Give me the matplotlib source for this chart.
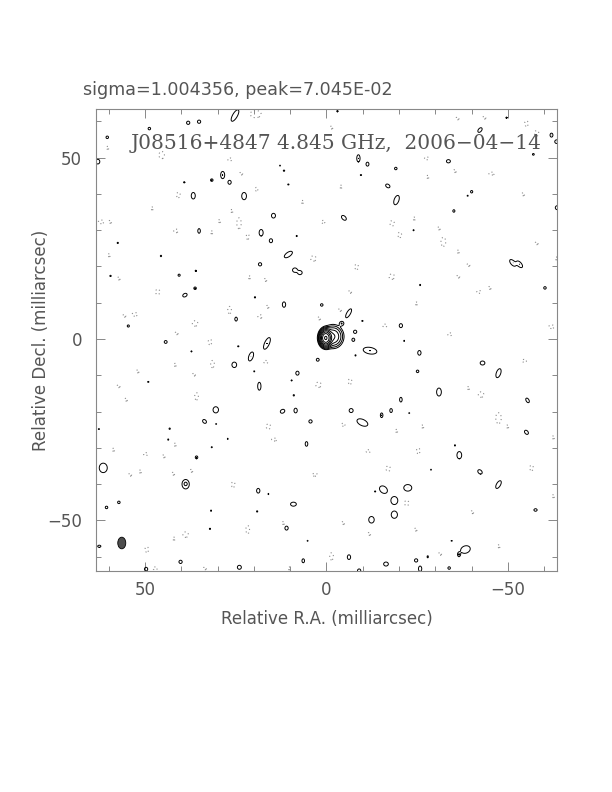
import numpy as np
import matplotlib
matplotlib.use("Agg")
import matplotlib.pyplot as plt
from matplotlib.patches import Ellipse
from matplotlib.ticker import MultipleLocator

# ---------------- text ----------------
top_text = "sigma=1.004356, peak=7.045E-02"
map_title = "J08516+4847 4.845 GHz,  2006\u221204\u221214"
x_label = "Relative R.A. (milliarcsec)"
y_label = "Relative Decl. (milliarcsec)"

# ---------------- map geometry / levels ----------------
x_limits = (63.5, -63.6)
y_limits = (-64.0, 63.4)
lowest_level = 0.0035            # fraction of peak
level_factors = [1, 2, 4, 8, 16, 32, 64, 128, 256]

# restoring beam: x, y, minor (mas), major (mas), angle
beam = (56.4, -56.2, 2.2, 3.2, 0)

# bright source components: x, y, amplitude (fraction of peak), w, h, angle
source_components = [
    (0.2, 0.3, 1.0, 1.6, 2.2, 0),
    (-1.8, 0.7, 0.06, 3.0, 3.3, 0),
]

# positive noise islands (contour at lowest level): x, y, width, height, angle
positive_islands = [
    (25.2, 61.6, 3.6, 1.3, 60), (38.1, 59.6, 0.9, 0.9, 0), (35.1, 59.9, 0.9, 0.9, 0),
    (48.8, 58.0, 0.7, 0.7, 0), (60.4, 55.6, 0.7, 0.7, 0), (63.0, 48.9, 1.1, 1.3, 0),
    (28.6, 45.2, 1.1, 2.0, 0), (26.7, 43.2, 0.9, 1.1, 0), (31.6, 43.8, 0.7, 0.7, 0),
    (36.7, 39.5, 1.1, 1.8, 0), (22.7, 39.4, 1.3, 2.0, 0), (14.6, 34.0, 1.1, 1.3, 0),
    (39.2, 43.2, 0.4, 0.4, 0), (11.7, 46.4, 0.4, 0.4, 0), (12.8, 47.8, 0.3, 0.3, 0),
    (10.5, 42.6, 0.35, 0.35, 0), (35.1, 29.8, 0.7, 1.3, 0), (18.0, 29.3, 1.1, 1.8, 0),
    (15.3, 27.1, 0.9, 1.1, 0), (8.2, 28.4, 0.35, 0.35, 0), (10.5, 23.3, 2.6, 1.2, 35),
    (18.3, 20.6, 0.9, 0.9, 0), (8.7, 19.0, 1.3, 1.2, 0), (7.3, 18.3, 1.2, 1.1, 0),
    (45.6, 22.9, 0.4, 0.4, 0), (57.5, 26.5, 0.35, 0.35, 0), (59.5, 17.4, 0.4, 0.4, 0),
    (40.6, 17.6, 0.6, 0.6, 0), (36.0, 18.8, 0.4, 0.4, 0), (36.2, 14.0, 0.7, 0.7, 0),
    (39.0, 12.1, 1.3, 0.9, 30), (19.7, 11.5, 0.35, 0.35, 0), (11.7, 9.5, 0.9, 1.5, 0),
    (1.3, 9.4, 0.7, 0.7, 0), (24.9, 5.5, 0.7, 1.1, 0), (54.6, 3.6, 0.6, 0.6, 0),
    (-3.0, 62.8, 0.4, 0.4, 0), (-49.6, 61.0, 0.4, 0.4, 0), (-42.3, 57.6, 1.5, 0.9, 50),
    (-62.0, 56.2, 0.8, 1.1, 0), (-63.4, 54.4, 1.0, 1.0, 0), (-57.0, 50.9, 0.5, 0.5, 0),
    (-8.8, 49.8, 0.9, 2.0, 0), (-11.3, 48.2, 0.8, 1.1, 0), (-33.6, 49.0, 1.1, 0.9, 0),
    (-19.1, 47.0, 0.7, 0.7, 0), (-9.5, 45.2, 0.35, 0.35, 0), (-16.9, 42.2, 1.3, 0.9, -35),
    (-19.3, 38.3, 2.7, 1.3, 70), (-40.0, 40.6, 0.6, 0.7, 0), (-38.9, 39.5, 0.3, 0.3, 0),
    (-35.1, 35.3, 0.6, 0.7, 0), (-4.8, 33.4, 1.6, 1.0, -45), (-24.0, 30.0, 0.35, 0.35, 0),
    (-63.6, 36.2, 1.1, 1.1, 0), (-51.3, 21.0, 2.2, 1.1, -50), (-53.2, 20.6, 2.2, 1.1, -50),
    (-25.8, 14.9, 0.35, 0.35, 0), (-60.2, 14.1, 0.7, 0.7, 0), (-6.1, 7.1, 2.8, 1.0, 60),
    (-4.2, 4.3, 1.1, 1.1, 0), (-9.9, 5.0, 0.35, 0.35, 0), (-20.5, 3.7, 0.9, 1.1, 0),
    (-7.9, 2.0, 0.9, 0.9, 0),
    (44.3, -0.8, 0.8, 0.8, 0), (24.3, -2.0, 0.35, 0.35, 0), (37.2, -3.4, 0.35, 0.35, 0),
    (16.4, -1.2, 3.5, 1.3, 65), (20.8, -4.8, 2.6, 1.2, 70), (25.4, -7.1, 1.3, 1.5, 0),
    (2.4, -5.7, 0.8, 0.8, 0), (8.0, -9.4, 0.9, 1.1, 0), (9.6, -11.4, 0.35, 0.35, 0),
    (19.9, -8.9, 0.3, 0.3, 0), (49.1, -11.8, 0.35, 0.35, 0), (18.5, -13.0, 0.9, 2.2, 0),
    (9.0, -15.5, 0.4, 0.4, 0), (30.5, -19.5, 1.5, 1.7, 0), (12.1, -19.9, 1.3, 1.0, 30),
    (8.5, -19.7, 0.9, 1.3, 0), (33.6, -22.7, 1.2, 0.9, -45), (4.4, -22.7, 0.9, 0.9, 0),
    (30.4, -23.4, 0.3, 0.3, 0), (43.2, -24.7, 0.4, 0.4, 0), (43.6, -27.7, 0.35, 0.35, 0),
    (27.2, -27.5, 0.3, 0.3, 0), (31.6, -29.8, 0.35, 0.35, 0), (5.5, -28.9, 0.7, 1.3, 0),
    (35.8, -32.6, 0.7, 0.8, 0), (61.5, -35.5, 2.2, 2.6, 0), (38.8, -40.0, 2.0, 2.6, 0),
    (38.8, -39.9, 0.5, 0.5, 0),
    (18.8, -41.8, 0.9, 1.3, 0), (16.0, -42.7, 0.3, 0.3, 0), (9.1, -45.5, 1.6, 1.1, 0),
    (57.2, -45.0, 0.7, 0.7, 0), (60.6, -46.4, 0.7, 0.7, 0), (31.8, -47.3, 0.35, 0.35, 0),
    (19.1, -47.5, 0.35, 0.35, 0), (32.1, -52.3, 0.35, 0.35, 0), (11.0, -52.1, 0.9, 1.1, 0),
    (5.2, -55.6, 0.3, 0.3, 0), (62.6, -57.1, 0.9, 0.6, 0), (6.4, -61.1, 0.7, 1.1, 0),
    (40.2, -61.4, 0.9, 0.9, 0), (24.0, -62.9, 1.1, 1.1, 0), (49.7, -63.4, 0.9, 1.0, 0),
    (62.7, -24.8, 0.3, 0.3, 0),
    (-7.4, -0.2, 0.8, 0.9, 0), (-12.0, -3.2, 3.8, 1.8, -10), (-8.0, -4.5, 0.35, 0.35, 0),
    (-21.4, -0.5, 0.3, 0.3, 0), (-25.6, -3.8, 0.9, 1.3, 0), (-25.1, -8.9, 0.7, 0.7, 0),
    (-43.0, -6.6, 1.3, 1.1, 0), (-47.4, -9.4, 2.6, 1.2, 70), (-31.0, -14.6, 1.3, 2.2, 0),
    (-20.5, -16.7, 0.7, 1.3, 0), (-6.8, -19.7, 1.1, 1.1, 0), (-17.8, -19.7, 0.7, 1.1, 0),
    (-15.2, -21.0, 0.7, 1.3, 0), (-9.9, -23.0, 3.2, 1.7, -25), (-55.4, -16.9, 1.4, 0.8, -60),
    (-55.1, -25.7, 1.3, 0.9, -50), (-22.8, -20.4, 0.3, 0.3, 0), (-35.4, -29.3, 0.35, 0.35, 0),
    (-36.6, -32.0, 1.3, 2.0, 0), (-42.3, -36.6, 1.4, 1.0, -45), (-47.4, -40.1, 2.4, 1.1, 60),
    (-57.6, -47.1, 0.9, 0.7, 0), (-15.7, -41.5, 2.4, 1.8, -40), (-22.4, -41.0, 2.2, 1.8, 0),
    (-18.7, -44.5, 1.9, 2.2, 0), (-18.7, -48.4, 1.7, 2.0, 0), (-12.4, -49.8, 1.5, 1.8, 0),
    (-13.4, -42.0, 0.35, 0.35, 0), (-38.3, -58.0, 2.7, 2.0, 20), (-36.5, -59.4, 0.7, 1.1, 0),
    (-27.9, -60.0, 0.3, 0.7, 0), (-6.2, -60.1, 0.9, 1.3, 0), (-16.4, -62.0, 1.3, 1.1, 0),
    (-24.7, -61.0, 0.9, 0.9, 0), (-25.8, -63.3, 0.9, 1.5, 0), (-33.8, -63.1, 0.7, 0.7, 0),
    (-9.0, -63.8, 0.9, 0.9, 0), (-28.8, -36.0, 0.3, 0.3, 0), (-34.5, -55.6, 0.3, 0.3, 0),
]

# negative noise islands (dotted contour at -lowest level): x, y, width, height
negative_islands = [
    (19.5, 62.0, 3.0, 2.0), (45.4, 50.7, 1.5, 2.0), (60.3, 52.7, 0.8, 0.8), (26.6, 49.5, 1.2, 0.8),
    (23.5, 45.6, 0.8, 0.8), (19.3, 41.3, 0.8, 1.0), (40.8, 39.7, 1.0, 1.5), (48.0, 36.0, 0.8, 0.8),
    (26.1, 35.3, 0.8, 0.8), (24.1, 31.9, 1.2, 3.0), (29.5, 32.5, 0.8, 0.8), (62.1, 32.3, 1.5, 1.0),
    (59.6, 32.3, 0.8, 0.8), (41.5, 29.8, 1.2, 1.0), (31.6, 29.4, 0.8, 0.8), (21.7, 28.2, 0.8, 1.5),
    (6.6, 37.8, 0.8, 0.8), (0.9, 32.3, 1.0, 0.8), (59.9, 23.1, 0.8, 0.8), (3.6, 22.2, 1.5, 1.5),
    (57.2, 16.7, 0.8, 0.8), (46.5, 13.0, 1.2, 1.5), (21.2, 17.0, 0.8, 0.8), (16.8, 16.3, 0.8, 0.8),
    (16.2, 8.9, 0.8, 0.8), (26.7, 8.0, 1.0, 2.0), (18.3, 6.2, 1.2, 1.0), (52.8, 6.8, 1.5, 1.0),
    (55.7, 6.4, 0.8, 0.8), (36.2, 4.3, 1.5, 1.5), (41.3, 1.6, 0.8, 0.8), (2.0, 5.7, 0.8, 0.8),
    (-36.1, 60.8, 0.8, 0.8), (-43.5, 61.0, 0.8, 0.8), (-55.1, 59.4, 1.0, 1.5), (-57.9, 56.7, 1.2, 1.5),
    (-1.4, 58.3, 0.8, 0.8), (-27.6, 49.8, 1.2, 0.8), (-45.5, 45.6, 1.5, 0.8), (-35.4, 46.3, 0.8, 0.8),
    (-4.0, 42.0, 0.8, 0.8), (-27.9, 44.7, 0.8, 0.8), (-54.2, 39.9, 0.8, 0.8), (-24.2, 33.2, 0.8, 0.8),
    (-18.1, 31.9, 1.2, 1.5), (-20.2, 28.7, 1.0, 1.5), (-32.2, 26.8, 1.3, 2.5), (-36.3, 24.1, 0.8, 0.8),
    (-31.0, 30.5, 0.8, 0.8), (-57.9, 26.4, 0.8, 0.8), (-8.3, 19.9, 1.0, 1.5), (-18.0, 17.2, 1.5, 1.5),
    (-36.3, 17.2, 0.8, 0.8), (-39.1, 20.4, 0.8, 0.8), (-42.0, 13.0, 1.2, 0.8), (-45.0, 14.1, 0.8, 0.8),
    (-24.8, 9.8, 0.8, 0.8), (-16.1, 3.7, 1.2, 0.8), (-34.0, 1.3, 1.2, 0.8), (-62.0, 3.4, 1.5, 1.0),
    (-3.7, 8.0, 0.8, 0.8), (-63.4, 22.2, 0.8, 0.8), (-6.5, 13.0, 0.8, 0.8),
    (32.1, -0.8, 1.0, 1.5), (41.7, -7.1, 0.8, 0.8), (31.4, -6.9, 1.0, 2.0), (52.0, -8.9, 0.8, 0.8),
    (36.5, -9.8, 0.8, 0.8), (16.7, -6.3, 1.2, 0.8), (57.3, -13.0, 0.8, 0.8), (35.8, -15.8, 1.0, 2.0),
    (55.2, -16.7, 0.8, 0.8), (2.2, -12.6, 1.5, 1.5), (16.0, -24.1, 1.2, 1.5), (41.7, -29.1, 0.8, 0.8),
    (49.8, -31.7, 1.2, 0.8), (14.4, -27.7, 1.5, 0.8), (58.7, -30.5, 0.8, 0.8), (42.2, -37.1, 0.8, 0.8),
    (37.2, -36.3, 0.8, 0.8), (54.1, -37.4, 0.8, 0.8), (51.3, -36.5, 0.8, 0.8), (25.7, -40.1, 1.0, 1.5),
    (3.2, -37.4, 1.5, 0.8), (21.7, -52.5, 1.0, 2.2), (38.8, -53.9, 1.5, 1.5), (49.5, -58.0, 1.0, 1.5),
    (47.2, -63.2, 1.2, 0.8), (33.5, -63.2, 0.8, 0.8), (10.2, -63.2, 0.8, 0.8), (42.0, -55.0, 0.8, 0.8),
    (44.8, -32.3, 0.8, 0.8), (11.9, -50.7, 0.8, 0.8),
    (-54.5, -6.0, 1.2, 0.8), (-6.5, -11.7, 1.0, 1.5), (-39.1, -13.5, 0.8, 0.8), (-42.6, -15.3, 1.5, 1.5),
    (-47.4, -21.8, 1.5, 3.0), (-49.9, -24.1, 0.8, 0.8), (-4.6, -23.6, 1.0, 0.8), (-19.3, -25.3, 0.8, 0.8),
    (-26.5, -24.1, 0.8, 0.8), (-11.5, -30.9, 1.2, 0.8), (-25.3, -30.8, 1.0, 1.5), (-17.0, -35.7, 1.2, 1.5),
    (-56.5, -35.5, 1.0, 1.5), (-62.5, -27.1, 0.8, 0.8), (-22.1, -45.2, 1.2, 1.5), (-40.2, -47.7, 0.8, 0.8),
    (-24.6, -52.5, 0.8, 0.8), (-11.8, -53.7, 0.8, 0.8), (-47.5, -57.1, 0.8, 0.8), (-1.4, -59.9, 1.0, 2.0),
    (-31.3, -59.2, 0.8, 0.8), (-62.5, -43.3, 0.8, 0.8), (-4.6, -50.7, 0.8, 0.8),
]

# ---------------- build the map image from the components ----------------
step = 0.2
xs = np.arange(-66.0, 66.0 + step / 2, step)
ys = np.arange(-66.0, 66.0 + step / 2, step)
X, Y = np.meshgrid(xs, ys)
image = np.zeros_like(X)
K = 4.0 * np.log(2.0)


def add_component(x0, y0, amp, w, h, ang):
    r = 3.0 * max(w, h) + 1.0
    ix = np.where(np.abs(xs - x0) < r)[0]
    iy = np.where(np.abs(ys - y0) < r)[0]
    if ix.size == 0 or iy.size == 0:
        return
    sx = slice(ix[0], ix[-1] + 1)
    sy = slice(iy[0], iy[-1] + 1)
    u = -(X[sy, sx] - x0)       # screen direction (RA increases to the left)
    v = Y[sy, sx] - y0
    t = np.radians(ang)
    a = u * np.cos(t) + v * np.sin(t)
    b = -u * np.sin(t) + v * np.cos(t)
    image[sy, sx] += amp * np.exp(-K * ((a / w) ** 2 + (b / h) ** 2))


for (x0, y0, amp, w, h, ang) in source_components:
    add_component(x0, y0, amp, w, h, ang)
for (x0, y0, w, h, ang) in positive_islands:
    add_component(x0, y0, 2.0 * lowest_level, w, h, ang)
for (x0, y0, w, h) in negative_islands:
    add_component(x0, y0, -2.0 * lowest_level, w, h, 0)

# ---------------- figure ----------------
fig = plt.figure(figsize=(6.12, 7.92), dpi=100)
ax = fig.add_axes([96 / 612, 1 - 571.3 / 792, 461.3 / 612, 462.3 / 792])

pos_levels = [lowest_level * f for f in level_factors]
ax.contour(X, Y, image, levels=pos_levels, colors="black", linewidths=0.7)
neg = ax.contour(X, Y, image, levels=[-lowest_level], colors="#8a8a8a", linewidths=0.8)
neg.set_linestyle((0, (1.0, 2.5)))

bx, by, bmin, bmaj, bang = beam
ax.add_patch(Ellipse((bx, by), width=bmin, height=bmaj, angle=bang,
                     facecolor="#4d4d4d", edgecolor="black", linewidth=0.6))

ax.set_xlim(*x_limits)
ax.set_ylim(*y_limits)

ax.xaxis.set_major_locator(MultipleLocator(50))
ax.xaxis.set_minor_locator(MultipleLocator(10))
ax.yaxis.set_major_locator(MultipleLocator(50))
ax.yaxis.set_minor_locator(MultipleLocator(10))
ax.tick_params(which="both", direction="in", top=True, right=True,
               color="#888888", width=0.7)
ax.tick_params(which="major", length=6.5)
ax.tick_params(which="minor", length=3.5)
ax.tick_params(axis="x", which="major", pad=7, labelsize=12, labelcolor="#555555")
ax.tick_params(axis="y", which="major", pad=10, labelsize=12, labelcolor="#555555")
for sp in ax.spines.values():
    sp.set_color("#888888")
    sp.set_linewidth(0.8)

ax.text(0.074, 0.926, map_title, transform=ax.transAxes, ha="left", va="center",
        fontsize=14.5, family="DejaVu Serif", color="#555555")

fig.text(83 / 612, 1 - 90 / 792, top_text, ha="left", va="center",
         fontsize=12.6, color="#555555")
fig.text(327 / 612, 1 - 618.5 / 792, x_label, ha="center", va="center",
         fontsize=12, color="#555555")
fig.text(41 / 612, 1 - 340 / 792, y_label, ha="center", va="center",
         rotation=90, fontsize=12, color="#555555")

fig.savefig("out.png", dpi=100)
